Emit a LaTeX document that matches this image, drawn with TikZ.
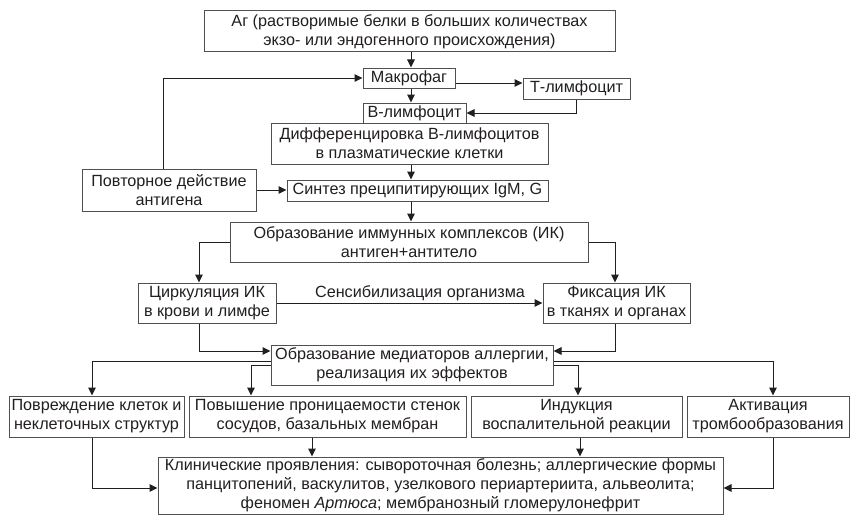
\documentclass[tikz,border=0pt]{standalone}
\usepackage{fontspec}
\setmainfont{Liberation Sans}
\usetikzlibrary{arrows.meta}
\definecolor{ink}{HTML}{231F20}
\definecolor{boxc}{HTML}{505050}
\tikzset{
  box/.style={draw=boxc, line width=1pt, fill=white, align=center, inner sep=0pt,
    text=ink, font=\fontsize{16.2}{19}\selectfont},
  wh/.style 2 args={minimum width=#1pt, minimum height=#2pt},
  arr/.style={draw=ink, line width=1pt, -{Triangle[length=8pt,width=7.5pt]}},
  lbl/.style={text=ink, font=\fontsize{16.2}{19}\selectfont, inner sep=1pt}
}
\begin{document}
\begin{tikzpicture}[x=1pt,y=-1pt]
\useasboundingbox (0,0) rectangle (856,527);
% nodes
\node[box,wh={411}{41}] (ag) at (409.5,31.5) {Аг (растворимые белки в больших количествах\\экзо- или эндогенного происхождения)};
\node[box,wh={92}{20}] (mac) at (409,78) {Макрофаг};
\node[box,wh={107}{21}] (tl) at (576.5,88.5) {Т-лимфоцит};
\node[box,wh={103}{20}] (bl) at (414.5,113) {В-лимфоцит};
\node[box,wh={277}{41}] (dif) at (409.5,143.5) {Дифференцировка В-лимфоцитов\\в плазматические клетки};
\node[box,wh={174}{42}] (rep) at (169,190) {Повторное действие\\антигена};
\node[box,wh={261}{21}] (syn) at (417.5,190.5) {Синтез преципитирующих IgM, G};
\node[box,wh={358}{40}] (ik) at (409,242) {Образование иммунных комплексов (ИК)\\антиген+антитело};
\node[box,wh={138}{40}] (circ) at (207,303) {Циркуляция ИК\\в крови и лимфе};
\node[box,wh={147}{40}] (fix) at (616.5,303) {Фиксация ИК\\в тканях и органах};
\node[box,wh={282}{40}] (med) at (412,365) {Образование медиаторов аллергии,\\реализация их эффектов};
\node[box,wh={175}{41}] (dmg) at (96.5,416.5) {Повреждение клеток и\\неклеточных структур};
\node[box,wh={277}{41}] (perm) at (327.5,416.5) {Повышение проницаемости стенок\\сосудов, базальных мембран};
\node[box,wh={211}{41}] (ind) at (576.5,416.5) {Индукция\\воспалительной реакции};
\node[box,wh={162}{41}] (act) at (768,416.5) {Активация\\тромбообразования};
\node[box,wh={565}{57}] (clin) at (440.5,485.5) {Клинические проявления: сывороточная болезнь; аллергические формы\\панцитопений, васкулитов, узелкового периартериита, альвеолита;\\феномен \textit{Артюса}; мембранозный гломерулонефрит};
% helper coordinates
\coordinate (xa) at (411,0);
\coordinate (ya) at (0,83);
\coordinate (xr) at (163,0);
\coordinate (xc) at (199,0);
\coordinate (xf) at (615,0);
\coordinate (yin) at (0,351);
\coordinate (yo1) at (0,361);
\coordinate (yo2) at (0,365);
\coordinate (x1) at (92,0);
\coordinate (x2) at (251,0);
\coordinate (x3) at (578,0);
\coordinate (x4) at (773,0);
\coordinate (x5) at (312,0);
\coordinate (x6) at (580,0);
\coordinate (yc) at (0,488);
% connectors
\draw[arr] (ag.south -| xa) -- (mac.north -| xa);
\draw[arr] (mac.south -| xa) -- (bl.north -| xa);
\draw[arr] (mac.east |- ya) -- (tl.west |- ya);
\draw[arr] (tl.south) |- (bl.east);
\draw[arr] (rep.north -| xr) |- (mac.west);
\draw[arr] (rep.east) -- (syn.west |- rep.east);
\draw[arr] (dif.south -| xa) -- (syn.north -| xa);
\draw[arr] (syn.south -| xa) -- (ik.north -| xa);
\draw[arr] (ik.west) -| (circ.north -| xc);
\draw[arr] (ik.east) -| (fix.north -| xf);
\draw[arr] (circ.east) -- node[lbl,above=1pt,xshift=10.5pt] {Сенсибилизация организма} (fix.west);
\draw[arr] (circ.south -| xc) |- (med.west |- yin);
\draw[arr] (fix.south -| xf) |- (med.east |- yin);
\draw[arr] (med.west |- yo1) -| (dmg.north -| x1);
\draw[arr] (med.west |- yo2) -| (perm.north -| x2);
\draw[arr] (med.east |- yo2) -| (ind.north -| x3);
\draw[arr] (med.east |- yo1) -| (act.north -| x4);
\draw[arr] (dmg.south -| x1) |- (clin.west |- yc);
\draw[arr] (perm.south -| x5) -- (clin.north -| x5);
\draw[arr] (ind.south -| x6) -- (clin.north -| x6);
\draw[arr] (act.south -| x4) |- (clin.east |- yc);
\end{tikzpicture}
\end{document}
